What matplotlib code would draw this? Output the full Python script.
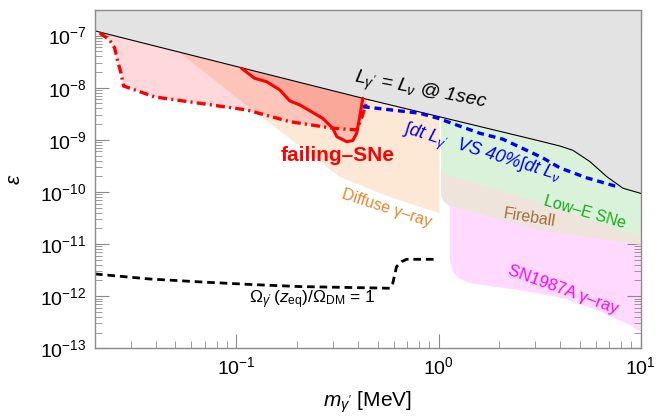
import numpy as np
import matplotlib
matplotlib.use("Agg")
import matplotlib.pyplot as plt
from matplotlib.ticker import LogLocator, NullFormatter

plt.rcParams['font.family'] = ['Liberation Sans', 'DejaVu Sans']
plt.rcParams['mathtext.fontset'] = 'custom'
plt.rcParams['mathtext.rm'] = 'Liberation Sans'
plt.rcParams['mathtext.it'] = 'Liberation Sans:italic'
plt.rcParams['mathtext.bf'] = 'Liberation Sans:bold'
plt.rcParams['lines.scale_dashes'] = False

# ---------------- data (m in MeV, epsilon) ----------------
black_m = [0.02, 0.422, 3.17, 3.99, 4.62, 5.61, 6.79, 8.17, 10.0]
black_eps = [1.23e-7, 6.28e-9, 9.5e-10, 7.6e-10, 6.3e-10, 3.82e-10, 1.97e-10, 1.18e-10, 9.4e-11]

dashdot_m = [0.0211, 0.0236, 0.025, 0.0258, 0.0268, 0.0277, 0.0395, 0.0659, 0.1125,
             0.184, 0.300, 0.394, 0.417, 0.445]
dashdot_eps = [1.13e-7, 8.26e-8, 5.8e-8, 3.42e-8, 2.01e-8, 1.08e-8, 6.65e-9, 5.03e-9, 3.75e-9,
               2.23e-9, 1.67e-9, 1.55e-9, 2.63e-9, 5.9e-9]

solid_m = [0.106, 0.123, 0.141, 0.164, 0.184, 0.206, 0.267, 0.300, 0.314, 0.352,
           0.377, 0.394, 0.408, 0.422]
solid_eps = [2.37e-8, 1.52e-8, 1.31e-8, 9.08e-9, 5.58e-9, 4.68e-9, 2.60e-9, 1.67e-9, 1.15e-9, 9.2e-10,
             9.7e-10, 1.34e-9, 2.79e-9, 6.28e-9]

blue_m = [0.422, 0.643, 0.808, 0.992, 1.228, 1.598, 2.08, 3.28, 3.99, 5.42, 7.47, 7.91]
blue_eps = [4.33e-9, 3.59e-9, 3.24e-9, 2.60e-9, 1.93e-9, 1.34e-9, 1.03e-9, 4.5e-10, 2.89e-10,
            1.86e-10, 1.30e-10, 1.28e-10]

omega_m = [0.02, 0.0372, 0.066, 0.1166, 0.206, 0.325, 0.574, 0.594, 0.620, 0.656, 0.695, 0.98]
omega_eps = [2.67e-12, 2.14e-12, 1.88e-12, 1.68e-12, 1.53e-12, 1.48e-12, 1.42e-12, 1.77e-12,
             3.68e-12, 4.59e-12, 5.1e-12, 5.1e-12]

diffuse_low_m = [0.0525, 0.1204, 0.325, 0.574, 1.012]
diffuse_low_eps = [4.66e-8, 3.75e-9, 1.94e-10, 8.0e-11, 3.9e-11]

lowE_low_m = [1.03, 3.17, 10.0]
lowE_low_eps = [2.32e-10, 6.15e-11, 1.39e-11]

fireball_low_m = [1.03, 1.062, 1.137, 3.17, 10.0]
fireball_low_eps = [8.75e-11, 6.43e-11, 5.38e-11, 1.87e-11, 9.6e-12]

sn_low_m = [1.137, 1.177, 1.275, 1.43, 1.945, 2.83, 4.12, 6.08, 8.85, 10.0]
sn_low_eps = [4.96e-12, 2.91e-12, 2.14e-12, 1.79e-12, 1.50e-12, 1.21e-12, 9.2e-13, 5.4e-13,
              2.8e-13, 2.06e-13]

HIGH = 1e-6

fig = plt.figure(figsize=(6.65, 4.16), dpi=100)
ax = fig.add_axes([95/665, 1-348.3/416, (640.7-95)/665, (348.3-10)/416])
ax.set_xscale('log')
ax.set_yscale('log')
ax.set_xlim(0.02, 10)
ax.set_ylim(1e-13, 3.1e-7)

# --- filled regions ---
ax.fill(sn_low_m + [10.0, sn_low_m[0]], sn_low_eps + [1e-10, 1e-10],
        color='#ffd9ff', lw=0, zorder=1)
ax.fill(fireball_low_m + [10.0, fireball_low_m[0]], fireball_low_eps + [3e-10, 3e-10],
        color='#efe4dc', lw=0, zorder=2)
ax.fill(lowE_low_m + [10.0, lowE_low_m[0]], lowE_low_eps + [HIGH, HIGH],
        color='#daf2da', lw=0, zorder=3)
ax.fill(diffuse_low_m[::-1] + [diffuse_low_m[0], diffuse_low_m[-1]],
        diffuse_low_eps[::-1] + [HIGH, HIGH], color='#fde8d6', lw=0, zorder=3)
ax.fill(dashdot_m + [dashdot_m[-1], dashdot_m[0]], dashdot_eps + [HIGH, HIGH],
        color=(1.0, 0.2, 0.25), alpha=0.19, lw=0, zorder=4)
ax.fill(solid_m + [solid_m[-1], solid_m[0]], solid_eps + [HIGH, HIGH],
        color=(0.95, 0.3, 0.22), alpha=0.24, lw=0, zorder=5)
ax.fill_between(black_m, black_eps, HIGH, color='#e3e3e3', lw=0, zorder=6)

# --- lines ---
ax.plot(black_m, black_eps, color='black', lw=0.8, zorder=7)
ax.plot(dashdot_m, dashdot_eps, color='#ff0000', lw=2.4, dashes=(6.5, 3, 1.5, 3), zorder=8)
ax.plot(solid_m, solid_eps, color='#ff0000', lw=2.2, zorder=9, solid_capstyle='round')
ax.plot(blue_m, blue_eps, color='#0000ff', lw=2.4, dashes=(5, 3.5), zorder=9)
ax.plot(omega_m, omega_eps, color='black', lw=2.0, dashes=(5.5, 3.5), zorder=9)

# --- text labels ---
ax.text(0.817, 8.3e-9, r"$L_{\gamma'}$ = $L_{\nu}$ @ 1sec", fontsize=14, style='italic',
        rotation=-11, ha='center', va='center', zorder=10)
ax.text(1.64, 5.6e-10, r"$\int$dt $L_{\gamma'}$  VS 40%$\int$dt $L_{\nu}$", fontsize=13,
        style='italic', color='#0000ee', rotation=-17, ha='center', va='center', zorder=10)
ax.text(0.318, 5.1e-10, "failing\u2013SNe", fontsize=15, fontweight='bold', color='#ff0000',
        ha='center', va='center', zorder=10)
ax.text(0.557, 4.9e-11, "Diffuse \u03b3\u2013ray", fontsize=11.5, color='#e8862a',
        rotation=-18, ha='center', va='center', zorder=10)
ax.text(5.3, 4.1e-11, "Low\u2013E SNe", fontsize=11.5, color='#1aaa1a',
        rotation=-16, ha='center', va='center', zorder=10)
ax.text(2.83, 3.2e-11, "Fireball", fontsize=11.5, color='#a0703c',
        rotation=-9, ha='center', va='center', zorder=10)
ax.text(4.12, 1.3e-12, "SN1987A \u03b3\u2013ray", fontsize=12, color='#ff00ff',
        rotation=-20, ha='center', va='center', zorder=10)
ax.text(0.237, 8.5e-13, r"$\Omega_{\gamma'}\,(z_{\rm eq})/\Omega_{\rm DM}$ = 1", fontsize=12.5,
        ha='center', va='center', zorder=10)

# --- axes styling ---
ax.set_xlabel(r"$m_{\gamma'}$ [MeV]", fontsize=15, labelpad=8)
ax.set_ylabel(r"$\varepsilon$", fontsize=15, labelpad=12)
ax.xaxis.set_major_locator(LogLocator(base=10, numticks=20))
ax.yaxis.set_major_locator(LogLocator(base=10, numticks=20))
ax.xaxis.set_minor_locator(LogLocator(base=10, subs=np.arange(2, 10), numticks=20))
ax.yaxis.set_minor_locator(LogLocator(base=10, subs=np.arange(2, 10), numticks=20))
ax.xaxis.set_minor_formatter(NullFormatter())
ax.yaxis.set_minor_formatter(NullFormatter())
ax.tick_params(which='both', direction='in', top=True, right=True, color='#8a8a8a',
               labelsize=14, zorder=11)
ax.tick_params(which='major', length=10, width=0.8, pad=6)
ax.tick_params(which='minor', length=5, width=0.6)
for s in ax.spines.values():
    s.set_color('#8a8a8a')
    s.set_linewidth(1.0)
    s.set_zorder(12)

fig.savefig('out.png', dpi=100)
